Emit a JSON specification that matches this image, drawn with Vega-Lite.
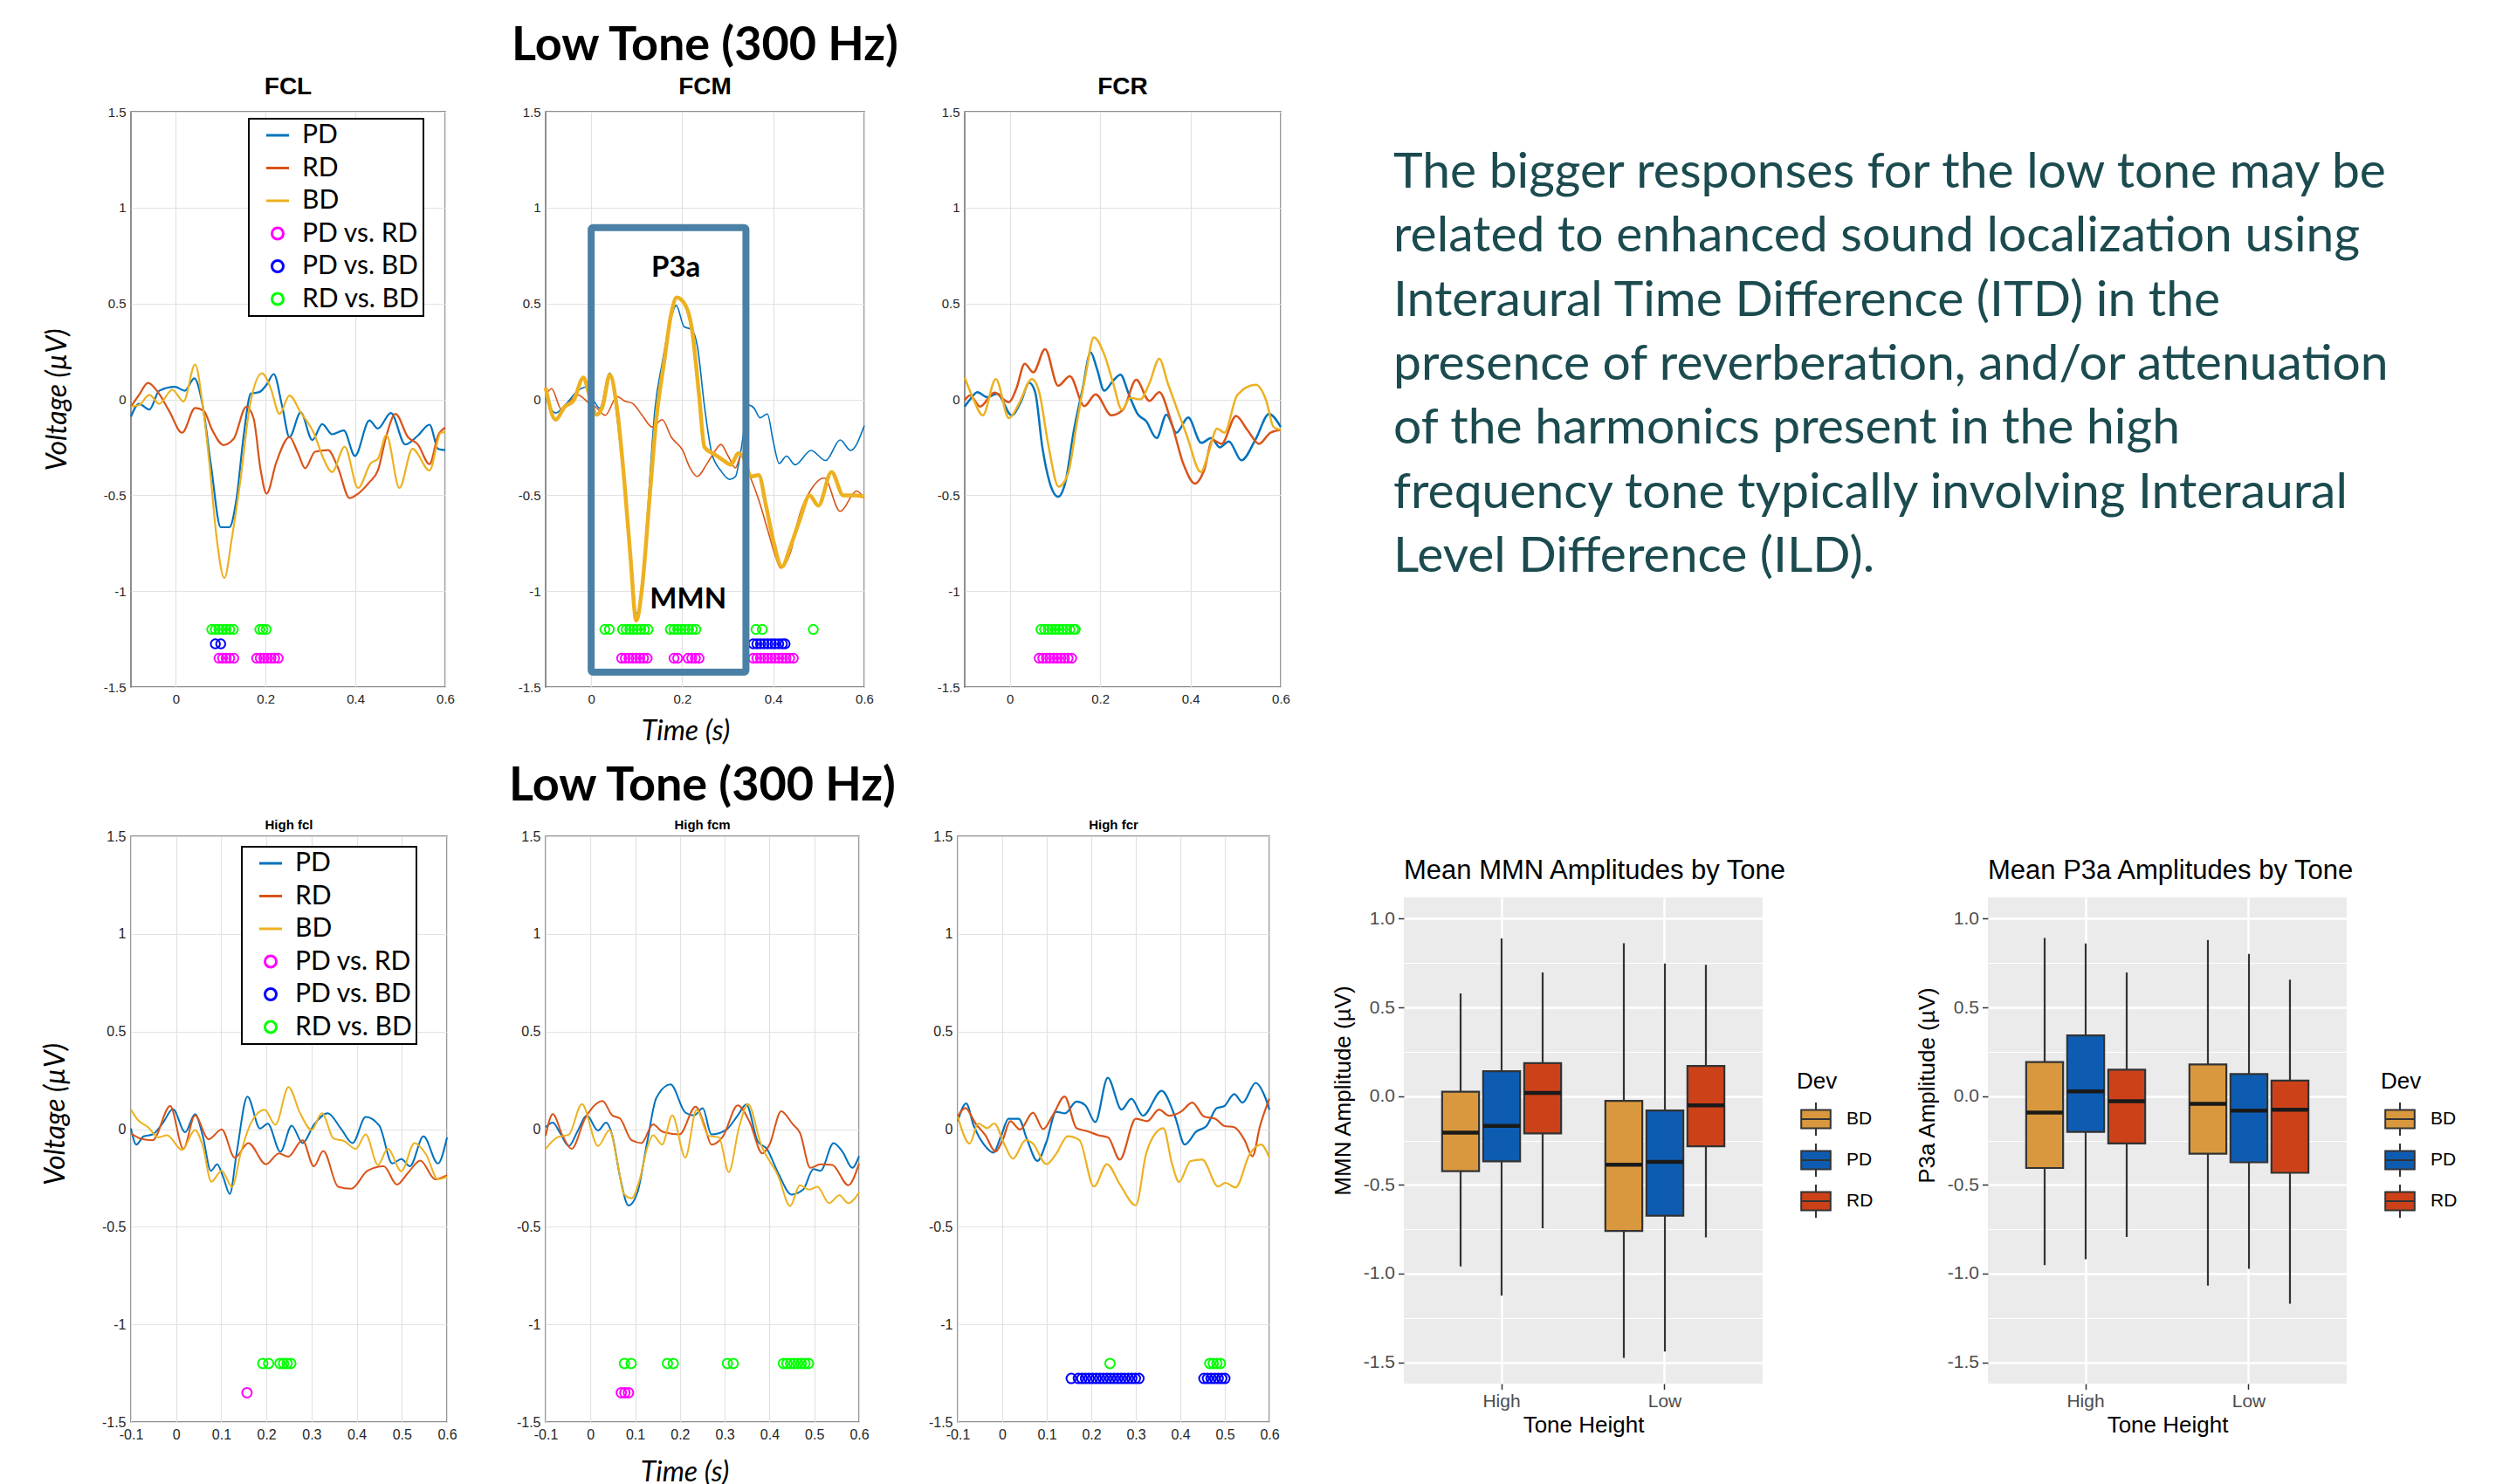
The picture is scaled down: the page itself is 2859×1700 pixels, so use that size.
{
"$schema": "https://vega.github.io/schema/vega-lite/v6.json",
"background": "#ffffff",
"padding": {"left": 46, "top": 25, "right": 5, "bottom": 5},
"config": {
  "font": "Liberation Sans",
  "view": {"stroke": "#6b6b6b", "strokeWidth": 1.5},
  "axis": {"grid": true, "gridColor": "#e2e2e2", "gridWidth": 1.2, "ticks": false, "domain": false, "labelFont": "Liberation Sans", "labelFontSize": 15, "labelColor": "#262626", "labelPadding": 6, "labelFlush": false, "labelOverlap": false, "titleFontWeight": "normal", "titleColor": "#000000"},
  "title": {"color": "#000000", "subtitleColor": "#000000"}
},
"datasets": {
"wave": [
{"p":"FCL","s":"PD","t":-0.1,"v":-0.09},{"p":"FCL","s":"PD","t":-0.082,"v":-0.023},{"p":"FCL","s":"PD","t":-0.059,"v":-0.053},{"p":"FCL","s":"PD","t":-0.037,"v":0.045},{"p":"FCL","s":"PD","t":-0.002,"v":0.065},{"p":"FCL","s":"PD","t":0.02,"v":0.045},{"p":"FCL","s":"PD","t":0.041,"v":0.11},{"p":"FCL","s":"PD","t":0.059,"v":-0.023},{"p":"FCL","s":"PD","t":0.078,"v":-0.34},{"p":"FCL","s":"PD","t":0.1,"v":-0.667},{"p":"FCL","s":"PD","t":0.119,"v":-0.667},{"p":"FCL","s":"PD","t":0.135,"v":-0.52},{"p":"FCL","s":"PD","t":0.151,"v":-0.19},{"p":"FCL","s":"PD","t":0.167,"v":0.03},{"p":"FCL","s":"PD","t":0.186,"v":0.038},{"p":"FCL","s":"PD","t":0.202,"v":0.076},{"p":"FCL","s":"PD","t":0.218,"v":0.132},{"p":"FCL","s":"PD","t":0.237,"v":-0.038},{"p":"FCL","s":"PD","t":0.253,"v":-0.197},{"p":"FCL","s":"PD","t":0.278,"v":-0.068},{"p":"FCL","s":"PD","t":0.304,"v":-0.212},{"p":"FCL","s":"PD","t":0.326,"v":-0.129},{"p":"FCL","s":"PD","t":0.348,"v":-0.182},{"p":"FCL","s":"PD","t":0.374,"v":-0.162},{"p":"FCL","s":"PD","t":0.399,"v":-0.295},{"p":"FCL","s":"PD","t":0.431,"v":-0.11},{"p":"FCL","s":"PD","t":0.45,"v":-0.152},{"p":"FCL","s":"PD","t":0.479,"v":-0.071},{"p":"FCL","s":"PD","t":0.511,"v":-0.235},{"p":"FCL","s":"PD","t":0.539,"v":-0.189},{"p":"FCL","s":"PD","t":0.565,"v":-0.132},{"p":"FCL","s":"PD","t":0.584,"v":-0.258},{"p":"FCL","s":"PD","t":0.6,"v":-0.265},
{"p":"FCL","s":"RD","t":-0.1,"v":-0.038},{"p":"FCL","s":"RD","t":-0.082,"v":0.023},{"p":"FCL","s":"RD","t":-0.062,"v":0.086},{"p":"FCL","s":"RD","t":-0.04,"v":0.038},{"p":"FCL","s":"RD","t":-0.015,"v":-0.06},{"p":"FCL","s":"RD","t":0.014,"v":-0.174},{"p":"FCL","s":"RD","t":0.043,"v":-0.045},{"p":"FCL","s":"RD","t":0.062,"v":-0.06},{"p":"FCL","s":"RD","t":0.081,"v":-0.16},{"p":"FCL","s":"RD","t":0.106,"v":-0.238},{"p":"FCL","s":"RD","t":0.129,"v":-0.205},{"p":"FCL","s":"RD","t":0.157,"v":-0.038},{"p":"FCL","s":"RD","t":0.173,"v":-0.098},{"p":"FCL","s":"RD","t":0.189,"v":-0.371},{"p":"FCL","s":"RD","t":0.202,"v":-0.492},{"p":"FCL","s":"RD","t":0.224,"v":-0.326},{"p":"FCL","s":"RD","t":0.253,"v":-0.197},{"p":"FCL","s":"RD","t":0.272,"v":-0.28},{"p":"FCL","s":"RD","t":0.288,"v":-0.359},{"p":"FCL","s":"RD","t":0.31,"v":-0.273},{"p":"FCL","s":"RD","t":0.339,"v":-0.265},{"p":"FCL","s":"RD","t":0.361,"v":-0.356},{"p":"FCL","s":"RD","t":0.387,"v":-0.515},{"p":"FCL","s":"RD","t":0.406,"v":-0.492},{"p":"FCL","s":"RD","t":0.431,"v":-0.432},{"p":"FCL","s":"RD","t":0.45,"v":-0.371},{"p":"FCL","s":"RD","t":0.469,"v":-0.189},{"p":"FCL","s":"RD","t":0.489,"v":-0.076},{"p":"FCL","s":"RD","t":0.517,"v":-0.197},{"p":"FCL","s":"RD","t":0.539,"v":-0.235},{"p":"FCL","s":"RD","t":0.565,"v":-0.338},{"p":"FCL","s":"RD","t":0.584,"v":-0.189},{"p":"FCL","s":"RD","t":0.6,"v":-0.147},
{"p":"FCL","s":"BD","t":-0.1,"v":-0.038},{"p":"FCL","s":"BD","t":-0.082,"v":-0.03},{"p":"FCL","s":"BD","t":-0.059,"v":0.023},{"p":"FCL","s":"BD","t":-0.037,"v":-0.023},{"p":"FCL","s":"BD","t":-0.008,"v":0.05},{"p":"FCL","s":"BD","t":0.017,"v":-0.011},{"p":"FCL","s":"BD","t":0.043,"v":0.182},{"p":"FCL","s":"BD","t":0.059,"v":-0.015},{"p":"FCL","s":"BD","t":0.075,"v":-0.34},{"p":"FCL","s":"BD","t":0.09,"v":-0.705},{"p":"FCL","s":"BD","t":0.108,"v":-0.932},{"p":"FCL","s":"BD","t":0.125,"v":-0.72},{"p":"FCL","s":"BD","t":0.145,"v":-0.4},{"p":"FCL","s":"BD","t":0.164,"v":-0.045},{"p":"FCL","s":"BD","t":0.192,"v":0.136},{"p":"FCL","s":"BD","t":0.211,"v":0.06},{"p":"FCL","s":"BD","t":0.231,"v":-0.076},{"p":"FCL","s":"BD","t":0.253,"v":0.02},{"p":"FCL","s":"BD","t":0.278,"v":-0.068},{"p":"FCL","s":"BD","t":0.307,"v":-0.174},{"p":"FCL","s":"BD","t":0.329,"v":-0.31},{"p":"FCL","s":"BD","t":0.348,"v":-0.379},{"p":"FCL","s":"BD","t":0.376,"v":-0.247},{"p":"FCL","s":"BD","t":0.406,"v":-0.462},{"p":"FCL","s":"BD","t":0.434,"v":-0.333},{"p":"FCL","s":"BD","t":0.45,"v":-0.31},{"p":"FCL","s":"BD","t":0.469,"v":-0.186},{"p":"FCL","s":"BD","t":0.498,"v":-0.462},{"p":"FCL","s":"BD","t":0.527,"v":-0.258},{"p":"FCL","s":"BD","t":0.565,"v":-0.371},{"p":"FCL","s":"BD","t":0.59,"v":-0.174},{"p":"FCL","s":"BD","t":0.6,"v":-0.17},
{"p":"FCM","s":"PD","t":-0.1,"v":0.008},{"p":"FCM","s":"PD","t":-0.078,"v":-0.071},{"p":"FCM","s":"PD","t":-0.055,"v":-0.023},{"p":"FCM","s":"PD","t":-0.029,"v":0.046},{"p":"FCM","s":"PD","t":-0.01,"v":0.065},{"p":"FCM","s":"PD","t":0.006,"v":-0.008},{"p":"FCM","s":"PD","t":0.019,"v":-0.046},{"p":"FCM","s":"PD","t":0.041,"v":0.137},{"p":"FCM","s":"PD","t":0.057,"v":-0.099},{"p":"FCM","s":"PD","t":0.073,"v":-0.463},{"p":"FCM","s":"PD","t":0.089,"v":-0.857},{"p":"FCM","s":"PD","t":0.099,"v":-1.115},{"p":"FCM","s":"PD","t":0.112,"v":-0.979},{"p":"FCM","s":"PD","t":0.124,"v":-0.584},{"p":"FCM","s":"PD","t":0.14,"v":-0.053},{"p":"FCM","s":"PD","t":0.156,"v":0.19},{"p":"FCM","s":"PD","t":0.172,"v":0.387},{"p":"FCM","s":"PD","t":0.187,"v":0.49},{"p":"FCM","s":"PD","t":0.204,"v":0.379},{"p":"FCM","s":"PD","t":0.221,"v":0.364},{"p":"FCM","s":"PD","t":0.233,"v":0.281},{"p":"FCM","s":"PD","t":0.249,"v":-0.038},{"p":"FCM","s":"PD","t":0.265,"v":-0.281},{"p":"FCM","s":"PD","t":0.285,"v":-0.372},{"p":"FCM","s":"PD","t":0.304,"v":-0.417},{"p":"FCM","s":"PD","t":0.317,"v":-0.402},{"p":"FCM","s":"PD","t":0.329,"v":-0.266},{"p":"FCM","s":"PD","t":0.346,"v":-0.03},{"p":"FCM","s":"PD","t":0.358,"v":-0.046},{"p":"FCM","s":"PD","t":0.371,"v":-0.096},{"p":"FCM","s":"PD","t":0.387,"v":-0.076},{"p":"FCM","s":"PD","t":0.4,"v":-0.22},{"p":"FCM","s":"PD","t":0.413,"v":-0.334},{"p":"FCM","s":"PD","t":0.429,"v":-0.296},{"p":"FCM","s":"PD","t":0.448,"v":-0.341},{"p":"FCM","s":"PD","t":0.483,"v":-0.266},{"p":"FCM","s":"PD","t":0.515,"v":-0.319},{"p":"FCM","s":"PD","t":0.547,"v":-0.212},{"p":"FCM","s":"PD","t":0.57,"v":-0.266},{"p":"FCM","s":"PD","t":0.6,"v":-0.137},
{"p":"FCM","s":"RD","t":-0.1,"v":0.023},{"p":"FCM","s":"RD","t":-0.087,"v":0.056},{"p":"FCM","s":"RD","t":-0.065,"v":-0.053},{"p":"FCM","s":"RD","t":-0.039,"v":0.008},{"p":"FCM","s":"RD","t":-0.029,"v":0.023},{"p":"FCM","s":"RD","t":-0.007,"v":-0.015},{"p":"FCM","s":"RD","t":0.009,"v":-0.038},{"p":"FCM","s":"RD","t":0.031,"v":-0.083},{"p":"FCM","s":"RD","t":0.057,"v":0.015},{"p":"FCM","s":"RD","t":0.073,"v":-0.008},{"p":"FCM","s":"RD","t":0.092,"v":-0.023},{"p":"FCM","s":"RD","t":0.112,"v":-0.083},{"p":"FCM","s":"RD","t":0.134,"v":-0.144},{"p":"FCM","s":"RD","t":0.156,"v":-0.106},{"p":"FCM","s":"RD","t":0.176,"v":-0.197},{"p":"FCM","s":"RD","t":0.201,"v":-0.266},{"p":"FCM","s":"RD","t":0.217,"v":-0.357},{"p":"FCM","s":"RD","t":0.233,"v":-0.402},{"p":"FCM","s":"RD","t":0.253,"v":-0.341},{"p":"FCM","s":"RD","t":0.269,"v":-0.281},{"p":"FCM","s":"RD","t":0.285,"v":-0.235},{"p":"FCM","s":"RD","t":0.301,"v":-0.296},{"p":"FCM","s":"RD","t":0.317,"v":-0.357},{"p":"FCM","s":"RD","t":0.329,"v":-0.296},{"p":"FCM","s":"RD","t":0.349,"v":-0.402},{"p":"FCM","s":"RD","t":0.368,"v":-0.524},{"p":"FCM","s":"RD","t":0.387,"v":-0.675},{"p":"FCM","s":"RD","t":0.406,"v":-0.827},{"p":"FCM","s":"RD","t":0.416,"v":-0.88},{"p":"FCM","s":"RD","t":0.438,"v":-0.797},{"p":"FCM","s":"RD","t":0.458,"v":-0.6},{"p":"FCM","s":"RD","t":0.483,"v":-0.47},{"p":"FCM","s":"RD","t":0.512,"v":-0.41},{"p":"FCM","s":"RD","t":0.547,"v":-0.584},{"p":"FCM","s":"RD","t":0.583,"v":-0.478},{"p":"FCM","s":"RD","t":0.6,"v":-0.516},
{"p":"FCM","s":"BD","t":-0.1,"v":0.061},{"p":"FCM","s":"BD","t":-0.078,"v":-0.106},{"p":"FCM","s":"BD","t":-0.058,"v":-0.038},{"p":"FCM","s":"BD","t":-0.039,"v":-0.008},{"p":"FCM","s":"BD","t":-0.017,"v":0.114},{"p":"FCM","s":"BD","t":-0.004,"v":0.023},{"p":"FCM","s":"BD","t":0.012,"v":-0.08},{"p":"FCM","s":"BD","t":0.025,"v":-0.038},{"p":"FCM","s":"BD","t":0.041,"v":0.129},{"p":"FCM","s":"BD","t":0.057,"v":-0.053},{"p":"FCM","s":"BD","t":0.073,"v":-0.432},{"p":"FCM","s":"BD","t":0.086,"v":-0.812},{"p":"FCM","s":"BD","t":0.099,"v":-1.153},{"p":"FCM","s":"BD","t":0.112,"v":-0.979},{"p":"FCM","s":"BD","t":0.128,"v":-0.524},{"p":"FCM","s":"BD","t":0.144,"v":-0.083},{"p":"FCM","s":"BD","t":0.16,"v":0.19},{"p":"FCM","s":"BD","t":0.176,"v":0.448},{"p":"FCM","s":"BD","t":0.188,"v":0.531},{"p":"FCM","s":"BD","t":0.208,"v":0.486},{"p":"FCM","s":"BD","t":0.221,"v":0.372},{"p":"FCM","s":"BD","t":0.237,"v":0.023},{"p":"FCM","s":"BD","t":0.249,"v":-0.25},{"p":"FCM","s":"BD","t":0.272,"v":-0.288},{"p":"FCM","s":"BD","t":0.291,"v":-0.319},{"p":"FCM","s":"BD","t":0.307,"v":-0.341},{"p":"FCM","s":"BD","t":0.323,"v":-0.281},{"p":"FCM","s":"BD","t":0.333,"v":-0.296},{"p":"FCM","s":"BD","t":0.352,"v":-0.402},{"p":"FCM","s":"BD","t":0.368,"v":-0.395},{"p":"FCM","s":"BD","t":0.384,"v":-0.554},{"p":"FCM","s":"BD","t":0.4,"v":-0.736},{"p":"FCM","s":"BD","t":0.419,"v":-0.873},{"p":"FCM","s":"BD","t":0.438,"v":-0.766},{"p":"FCM","s":"BD","t":0.458,"v":-0.63},{"p":"FCM","s":"BD","t":0.48,"v":-0.501},{"p":"FCM","s":"BD","t":0.499,"v":-0.554},{"p":"FCM","s":"BD","t":0.528,"v":-0.379},{"p":"FCM","s":"BD","t":0.554,"v":-0.501},{"p":"FCM","s":"BD","t":0.579,"v":-0.501},{"p":"FCM","s":"BD","t":0.6,"v":-0.508},
{"p":"FCR","s":"PD","t":-0.1,"v":-0.038},{"p":"FCR","s":"PD","t":-0.088,"v":0},{"p":"FCR","s":"PD","t":-0.072,"v":0.038},{"p":"FCR","s":"PD","t":-0.05,"v":0.011},{"p":"FCR","s":"PD","t":-0.028,"v":0.03},{"p":"FCR","s":"PD","t":0.004,"v":-0.083},{"p":"FCR","s":"PD","t":0.024,"v":-0.015},{"p":"FCR","s":"PD","t":0.043,"v":0.086},{"p":"FCR","s":"PD","t":0.056,"v":0.038},{"p":"FCR","s":"PD","t":0.072,"v":-0.25},{"p":"FCR","s":"PD","t":0.088,"v":-0.432},{"p":"FCR","s":"PD","t":0.107,"v":-0.508},{"p":"FCR","s":"PD","t":0.123,"v":-0.432},{"p":"FCR","s":"PD","t":0.142,"v":-0.159},{"p":"FCR","s":"PD","t":0.161,"v":0.053},{"p":"FCR","s":"PD","t":0.179,"v":0.245},{"p":"FCR","s":"PD","t":0.193,"v":0.159},{"p":"FCR","s":"PD","t":0.209,"v":0.045},{"p":"FCR","s":"PD","t":0.229,"v":0.098},{"p":"FCR","s":"PD","t":0.245,"v":0.129},{"p":"FCR","s":"PD","t":0.264,"v":0.023},{"p":"FCR","s":"PD","t":0.283,"v":-0.076},{"p":"FCR","s":"PD","t":0.302,"v":-0.114},{"p":"FCR","s":"PD","t":0.325,"v":-0.202},{"p":"FCR","s":"PD","t":0.347,"v":-0.08},{"p":"FCR","s":"PD","t":0.369,"v":-0.174},{"p":"FCR","s":"PD","t":0.395,"v":-0.095},{"p":"FCR","s":"PD","t":0.424,"v":-0.227},{"p":"FCR","s":"PD","t":0.446,"v":-0.202},{"p":"FCR","s":"PD","t":0.465,"v":-0.25},{"p":"FCR","s":"PD","t":0.485,"v":-0.22},{"p":"FCR","s":"PD","t":0.513,"v":-0.318},{"p":"FCR","s":"PD","t":0.545,"v":-0.205},{"p":"FCR","s":"PD","t":0.574,"v":-0.076},{"p":"FCR","s":"PD","t":0.6,"v":-0.144},
{"p":"FCR","s":"RD","t":-0.1,"v":-0.005},{"p":"FCR","s":"RD","t":-0.088,"v":0.02},{"p":"FCR","s":"RD","t":-0.066,"v":-0.038},{"p":"FCR","s":"RD","t":-0.034,"v":0.035},{"p":"FCR","s":"RD","t":-0.002,"v":-0.015},{"p":"FCR","s":"RD","t":0.014,"v":0.053},{"p":"FCR","s":"RD","t":0.033,"v":0.186},{"p":"FCR","s":"RD","t":0.052,"v":0.141},{"p":"FCR","s":"RD","t":0.078,"v":0.262},{"p":"FCR","s":"RD","t":0.107,"v":0.071},{"p":"FCR","s":"RD","t":0.133,"v":0.121},{"p":"FCR","s":"RD","t":0.165,"v":-0.035},{"p":"FCR","s":"RD","t":0.19,"v":0.026},{"p":"FCR","s":"RD","t":0.225,"v":-0.083},{"p":"FCR","s":"RD","t":0.251,"v":-0.053},{"p":"FCR","s":"RD","t":0.28,"v":0.102},{"p":"FCR","s":"RD","t":0.309,"v":-0.008},{"p":"FCR","s":"RD","t":0.331,"v":0.038},{"p":"FCR","s":"RD","t":0.357,"v":-0.114},{"p":"FCR","s":"RD","t":0.385,"v":-0.341},{"p":"FCR","s":"RD","t":0.41,"v":-0.439},{"p":"FCR","s":"RD","t":0.43,"v":-0.371},{"p":"FCR","s":"RD","t":0.449,"v":-0.212},{"p":"FCR","s":"RD","t":0.469,"v":-0.232},{"p":"FCR","s":"RD","t":0.501,"v":-0.086},{"p":"FCR","s":"RD","t":0.526,"v":-0.159},{"p":"FCR","s":"RD","t":0.552,"v":-0.232},{"p":"FCR","s":"RD","t":0.577,"v":-0.174},{"p":"FCR","s":"RD","t":0.6,"v":-0.159},
{"p":"FCR","s":"BD","t":-0.1,"v":0.114},{"p":"FCR","s":"BD","t":-0.082,"v":0.008},{"p":"FCR","s":"BD","t":-0.06,"v":-0.083},{"p":"FCR","s":"BD","t":-0.031,"v":0.106},{"p":"FCR","s":"BD","t":-0.002,"v":-0.098},{"p":"FCR","s":"BD","t":0.02,"v":-0.023},{"p":"FCR","s":"BD","t":0.049,"v":0.106},{"p":"FCR","s":"BD","t":0.065,"v":0.038},{"p":"FCR","s":"BD","t":0.085,"v":-0.235},{"p":"FCR","s":"BD","t":0.108,"v":-0.455},{"p":"FCR","s":"BD","t":0.129,"v":-0.386},{"p":"FCR","s":"BD","t":0.149,"v":-0.114},{"p":"FCR","s":"BD","t":0.168,"v":0.129},{"p":"FCR","s":"BD","t":0.186,"v":0.323},{"p":"FCR","s":"BD","t":0.209,"v":0.235},{"p":"FCR","s":"BD","t":0.229,"v":0.083},{"p":"FCR","s":"BD","t":0.248,"v":-0.053},{"p":"FCR","s":"BD","t":0.267,"v":0.008},{"p":"FCR","s":"BD","t":0.289,"v":0},{"p":"FCR","s":"BD","t":0.309,"v":0.083},{"p":"FCR","s":"BD","t":0.331,"v":0.212},{"p":"FCR","s":"BD","t":0.35,"v":0.083},{"p":"FCR","s":"BD","t":0.373,"v":-0.068},{"p":"FCR","s":"BD","t":0.392,"v":-0.189},{"p":"FCR","s":"BD","t":0.423,"v":-0.379},{"p":"FCR","s":"BD","t":0.44,"v":-0.28},{"p":"FCR","s":"BD","t":0.459,"v":-0.152},{"p":"FCR","s":"BD","t":0.475,"v":-0.174},{"p":"FCR","s":"BD","t":0.504,"v":0.023},{"p":"FCR","s":"BD","t":0.545,"v":0.076},{"p":"FCR","s":"BD","t":0.568,"v":-0.008},{"p":"FCR","s":"BD","t":0.584,"v":-0.144},{"p":"FCR","s":"BD","t":0.6,"v":-0.159},
{"p":"hFCL","s":"PD","t":-0.1,"v":0.003},{"p":"hFCL","s":"PD","t":-0.088,"v":-0.079},{"p":"hFCL","s":"PD","t":-0.072,"v":-0.037},{"p":"hFCL","s":"PD","t":-0.052,"v":-0.027},{"p":"hFCL","s":"PD","t":-0.029,"v":0.033},{"p":"hFCL","s":"PD","t":-0.007,"v":0.103},{"p":"hFCL","s":"PD","t":0.02,"v":-0.016},{"p":"hFCL","s":"PD","t":0.042,"v":0.077},{"p":"hFCL","s":"PD","t":0.059,"v":-0.034},{"p":"hFCL","s":"PD","t":0.077,"v":-0.213},{"p":"hFCL","s":"PD","t":0.091,"v":-0.18},{"p":"hFCL","s":"PD","t":0.104,"v":-0.243},{"p":"hFCL","s":"PD","t":0.119,"v":-0.332},{"p":"hFCL","s":"PD","t":0.134,"v":-0.124},{"p":"hFCL","s":"PD","t":0.158,"v":0.167},{"p":"hFCL","s":"PD","t":0.186,"v":0.003},{"p":"hFCL","s":"PD","t":0.203,"v":0.028},{"p":"hFCL","s":"PD","t":0.231,"v":-0.116},{"p":"hFCL","s":"PD","t":0.256,"v":0.018},{"p":"hFCL","s":"PD","t":0.28,"v":-0.071},{"p":"hFCL","s":"PD","t":0.306,"v":0.025},{"p":"hFCL","s":"PD","t":0.336,"v":0.082},{"p":"hFCL","s":"PD","t":0.365,"v":0.003},{"p":"hFCL","s":"PD","t":0.391,"v":-0.071},{"p":"hFCL","s":"PD","t":0.42,"v":0.063},{"p":"hFCL","s":"PD","t":0.45,"v":0.018},{"p":"hFCL","s":"PD","t":0.479,"v":-0.176},{"p":"hFCL","s":"PD","t":0.499,"v":-0.153},{"p":"hFCL","s":"PD","t":0.518,"v":-0.19},{"p":"hFCL","s":"PD","t":0.548,"v":-0.037},{"p":"hFCL","s":"PD","t":0.58,"v":-0.176},{"p":"hFCL","s":"PD","t":0.6,"v":-0.042},
{"p":"hFCL","s":"RD","t":-0.1,"v":-0.022},{"p":"hFCL","s":"RD","t":-0.078,"v":-0.049},{"p":"hFCL","s":"RD","t":-0.052,"v":-0.057},{"p":"hFCL","s":"RD","t":-0.013,"v":0.118},{"p":"hFCL","s":"RD","t":0.016,"v":-0.101},{"p":"hFCL","s":"RD","t":0.042,"v":0.07},{"p":"hFCL","s":"RD","t":0.072,"v":-0.052},{"p":"hFCL","s":"RD","t":0.101,"v":-0.001},{"p":"hFCL","s":"RD","t":0.13,"v":-0.146},{"p":"hFCL","s":"RD","t":0.16,"v":-0.071},{"p":"hFCL","s":"RD","t":0.199,"v":-0.18},{"p":"hFCL","s":"RD","t":0.228,"v":-0.124},{"p":"hFCL","s":"RD","t":0.248,"v":-0.141},{"p":"hFCL","s":"RD","t":0.28,"v":-0.057},{"p":"hFCL","s":"RD","t":0.305,"v":-0.19},{"p":"hFCL","s":"RD","t":0.326,"v":-0.112},{"p":"hFCL","s":"RD","t":0.359,"v":-0.295},{"p":"hFCL","s":"RD","t":0.388,"v":-0.305},{"p":"hFCL","s":"RD","t":0.424,"v":-0.213},{"p":"hFCL","s":"RD","t":0.46,"v":-0.19},{"p":"hFCL","s":"RD","t":0.489,"v":-0.284},{"p":"hFCL","s":"RD","t":0.515,"v":-0.22},{"p":"hFCL","s":"RD","t":0.541,"v":-0.161},{"p":"hFCL","s":"RD","t":0.574,"v":-0.257},{"p":"hFCL","s":"RD","t":0.6,"v":-0.235},
{"p":"hFCL","s":"BD","t":-0.1,"v":0.1},{"p":"hFCL","s":"BD","t":-0.085,"v":0.048},{"p":"hFCL","s":"BD","t":-0.062,"v":0.01},{"p":"hFCL","s":"BD","t":-0.039,"v":-0.042},{"p":"hFCL","s":"BD","t":-0.02,"v":-0.031},{"p":"hFCL","s":"BD","t":0.013,"v":-0.106},{"p":"hFCL","s":"BD","t":0.042,"v":-0.004},{"p":"hFCL","s":"BD","t":0.059,"v":-0.086},{"p":"hFCL","s":"BD","t":0.078,"v":-0.269},{"p":"hFCL","s":"BD","t":0.101,"v":-0.213},{"p":"hFCL","s":"BD","t":0.124,"v":-0.295},{"p":"hFCL","s":"BD","t":0.143,"v":-0.124},{"p":"hFCL","s":"BD","t":0.166,"v":0.033},{"p":"hFCL","s":"BD","t":0.196,"v":0.1},{"p":"hFCL","s":"BD","t":0.22,"v":0.022},{"p":"hFCL","s":"BD","t":0.249,"v":0.216},{"p":"hFCL","s":"BD","t":0.274,"v":0.085},{"p":"hFCL","s":"BD","t":0.3,"v":-0.004},{"p":"hFCL","s":"BD","t":0.323,"v":0.082},{"p":"hFCL","s":"BD","t":0.349,"v":-0.049},{"p":"hFCL","s":"BD","t":0.372,"v":-0.061},{"p":"hFCL","s":"BD","t":0.398,"v":-0.101},{"p":"hFCL","s":"BD","t":0.42,"v":-0.027},{"p":"hFCL","s":"BD","t":0.447,"v":-0.183},{"p":"hFCL","s":"BD","t":0.469,"v":-0.101},{"p":"hFCL","s":"BD","t":0.499,"v":-0.216},{"p":"hFCL","s":"BD","t":0.528,"v":-0.071},{"p":"hFCL","s":"BD","t":0.554,"v":-0.131},{"p":"hFCL","s":"BD","t":0.58,"v":-0.257},{"p":"hFCL","s":"BD","t":0.6,"v":-0.243},
{"p":"hFCM","s":"PD","t":-0.1,"v":0.01},{"p":"hFCM","s":"PD","t":-0.084,"v":0.033},{"p":"hFCM","s":"PD","t":-0.068,"v":-0.019},{"p":"hFCM","s":"PD","t":-0.048,"v":-0.086},{"p":"hFCM","s":"PD","t":-0.029,"v":-0.012},{"p":"hFCM","s":"PD","t":-0.008,"v":0.07},{"p":"hFCM","s":"PD","t":0.017,"v":-0.007},{"p":"hFCM","s":"PD","t":0.035,"v":0.033},{"p":"hFCM","s":"PD","t":0.049,"v":-0.034},{"p":"hFCM","s":"PD","t":0.066,"v":-0.243},{"p":"hFCM","s":"PD","t":0.085,"v":-0.391},{"p":"hFCM","s":"PD","t":0.105,"v":-0.324},{"p":"hFCM","s":"PD","t":0.127,"v":-0.064},{"p":"hFCM","s":"PD","t":0.147,"v":0.159},{"p":"hFCM","s":"PD","t":0.179,"v":0.229},{"p":"hFCM","s":"PD","t":0.212,"v":0.085},{"p":"hFCM","s":"PD","t":0.231,"v":0.07},{"p":"hFCM","s":"PD","t":0.251,"v":0.107},{"p":"hFCM","s":"PD","t":0.27,"v":-0.027},{"p":"hFCM","s":"PD","t":0.303,"v":-0.004},{"p":"hFCM","s":"PD","t":0.329,"v":0.07},{"p":"hFCM","s":"PD","t":0.348,"v":0.126},{"p":"hFCM","s":"PD","t":0.374,"v":-0.064},{"p":"hFCM","s":"PD","t":0.394,"v":-0.101},{"p":"hFCM","s":"PD","t":0.42,"v":-0.228},{"p":"hFCM","s":"PD","t":0.449,"v":-0.335},{"p":"hFCM","s":"PD","t":0.475,"v":-0.31},{"p":"hFCM","s":"PD","t":0.498,"v":-0.205},{"p":"hFCM","s":"PD","t":0.514,"v":-0.213},{"p":"hFCM","s":"PD","t":0.543,"v":-0.071},{"p":"hFCM","s":"PD","t":0.563,"v":-0.116},{"p":"hFCM","s":"PD","t":0.585,"v":-0.198},{"p":"hFCM","s":"PD","t":0.6,"v":-0.138},
{"p":"hFCM","s":"RD","t":-0.1,"v":-0.034},{"p":"hFCM","s":"RD","t":-0.084,"v":0.077},{"p":"hFCM","s":"RD","t":-0.062,"v":-0.034},{"p":"hFCM","s":"RD","t":-0.042,"v":-0.101},{"p":"hFCM","s":"RD","t":-0.012,"v":0.055},{"p":"hFCM","s":"RD","t":0.027,"v":0.144},{"p":"hFCM","s":"RD","t":0.049,"v":0.07},{"p":"hFCM","s":"RD","t":0.066,"v":0.055},{"p":"hFCM","s":"RD","t":0.092,"v":-0.057},{"p":"hFCM","s":"RD","t":0.114,"v":-0.071},{"p":"hFCM","s":"RD","t":0.14,"v":0.025},{"p":"hFCM","s":"RD","t":0.16,"v":-0.012},{"p":"hFCM","s":"RD","t":0.199,"v":-0.027},{"p":"hFCM","s":"RD","t":0.235,"v":0.115},{"p":"hFCM","s":"RD","t":0.254,"v":0.025},{"p":"hFCM","s":"RD","t":0.27,"v":-0.079},{"p":"hFCM","s":"RD","t":0.296,"v":-0.037},{"p":"hFCM","s":"RD","t":0.329,"v":0.122},{"p":"hFCM","s":"RD","t":0.355,"v":0.04},{"p":"hFCM","s":"RD","t":0.384,"v":-0.124},{"p":"hFCM","s":"RD","t":0.4,"v":-0.079},{"p":"hFCM","s":"RD","t":0.426,"v":0.092},{"p":"hFCM","s":"RD","t":0.452,"v":0.025},{"p":"hFCM","s":"RD","t":0.468,"v":-0.019},{"p":"hFCM","s":"RD","t":0.491,"v":-0.198},{"p":"hFCM","s":"RD","t":0.514,"v":-0.18},{"p":"hFCM","s":"RD","t":0.54,"v":-0.183},{"p":"hFCM","s":"RD","t":0.576,"v":-0.287},{"p":"hFCM","s":"RD","t":0.6,"v":-0.176},
{"p":"hFCM","s":"BD","t":-0.1,"v":-0.101},{"p":"hFCM","s":"BD","t":-0.074,"v":-0.042},{"p":"hFCM","s":"BD","t":-0.048,"v":-0.027},{"p":"hFCM","s":"BD","t":-0.019,"v":0.129},{"p":"hFCM","s":"BD","t":0.017,"v":-0.086},{"p":"hFCM","s":"BD","t":0.043,"v":-0.004},{"p":"hFCM","s":"BD","t":0.059,"v":-0.153},{"p":"hFCM","s":"BD","t":0.075,"v":-0.332},{"p":"hFCM","s":"BD","t":0.092,"v":-0.354},{"p":"hFCM","s":"BD","t":0.111,"v":-0.25},{"p":"hFCM","s":"BD","t":0.127,"v":-0.094},{"p":"hFCM","s":"BD","t":0.14,"v":-0.031},{"p":"hFCM","s":"BD","t":0.16,"v":-0.079},{"p":"hFCM","s":"BD","t":0.183,"v":0.07},{"p":"hFCM","s":"BD","t":0.212,"v":-0.146},{"p":"hFCM","s":"BD","t":0.237,"v":0.1},{"p":"hFCM","s":"BD","t":0.264,"v":-0.034},{"p":"hFCM","s":"BD","t":0.287,"v":-0.042},{"p":"hFCM","s":"BD","t":0.309,"v":-0.22},{"p":"hFCM","s":"BD","t":0.332,"v":0.01},{"p":"hFCM","s":"BD","t":0.352,"v":0.129},{"p":"hFCM","s":"BD","t":0.381,"v":-0.079},{"p":"hFCM","s":"BD","t":0.42,"v":-0.243},{"p":"hFCM","s":"BD","t":0.446,"v":-0.394},{"p":"hFCM","s":"BD","t":0.468,"v":-0.287},{"p":"hFCM","s":"BD","t":0.488,"v":-0.31},{"p":"hFCM","s":"BD","t":0.507,"v":-0.295},{"p":"hFCM","s":"BD","t":0.533,"v":-0.379},{"p":"hFCM","s":"BD","t":0.556,"v":-0.339},{"p":"hFCM","s":"BD","t":0.576,"v":-0.379},{"p":"hFCM","s":"BD","t":0.6,"v":-0.324},
{"p":"hFCR","s":"PD","t":-0.1,"v":0.041},{"p":"hFCR","s":"PD","t":-0.081,"v":0.132},{"p":"hFCR","s":"PD","t":-0.064,"v":0.017},{"p":"hFCR","s":"PD","t":-0.041,"v":-0.079},{"p":"hFCR","s":"PD","t":-0.02,"v":-0.12},{"p":"hFCR","s":"PD","t":-0.002,"v":-0.031},{"p":"hFCR","s":"PD","t":0.014,"v":0.053},{"p":"hFCR","s":"PD","t":0.037,"v":0.053},{"p":"hFCR","s":"PD","t":0.056,"v":-0.055},{"p":"hFCR","s":"PD","t":0.079,"v":-0.163},{"p":"hFCR","s":"PD","t":0.099,"v":-0.067},{"p":"hFCR","s":"PD","t":0.121,"v":0.089},{"p":"hFCR","s":"PD","t":0.141,"v":0.081},{"p":"hFCR","s":"PD","t":0.167,"v":0.141},{"p":"hFCR","s":"PD","t":0.186,"v":0.124},{"p":"hFCR","s":"PD","t":0.209,"v":0.036},{"p":"hFCR","s":"PD","t":0.237,"v":0.263},{"p":"hFCR","s":"PD","t":0.268,"v":0.1},{"p":"hFCR","s":"PD","t":0.29,"v":0.156},{"p":"hFCR","s":"PD","t":0.316,"v":0.069},{"p":"hFCR","s":"PD","t":0.358,"v":0.196},{"p":"hFCR","s":"PD","t":0.388,"v":0.065},{"p":"hFCR","s":"PD","t":0.41,"v":-0.079},{"p":"hFCR","s":"PD","t":0.436,"v":-0.012},{"p":"hFCR","s":"PD","t":0.459,"v":0.017},{"p":"hFCR","s":"PD","t":0.482,"v":0.108},{"p":"hFCR","s":"PD","t":0.498,"v":0.117},{"p":"hFCR","s":"PD","t":0.521,"v":0.179},{"p":"hFCR","s":"PD","t":0.54,"v":0.136},{"p":"hFCR","s":"PD","t":0.569,"v":0.237},{"p":"hFCR","s":"PD","t":0.589,"v":0.172},{"p":"hFCR","s":"PD","t":0.6,"v":0.1},
{"p":"hFCR","s":"RD","t":-0.1,"v":0.065},{"p":"hFCR","s":"RD","t":-0.083,"v":0.108},{"p":"hFCR","s":"RD","t":-0.06,"v":0.029},{"p":"hFCR","s":"RD","t":-0.038,"v":-0.031},{"p":"hFCR","s":"RD","t":-0.015,"v":-0.115},{"p":"hFCR","s":"RD","t":0.001,"v":-0.055},{"p":"hFCR","s":"RD","t":0.018,"v":0.041},{"p":"hFCR","s":"RD","t":0.04,"v":-0.002},{"p":"hFCR","s":"RD","t":0.069,"v":0.084},{"p":"hFCR","s":"RD","t":0.092,"v":0},{"p":"hFCR","s":"RD","t":0.115,"v":0.077},{"p":"hFCR","s":"RD","t":0.14,"v":0.167},{"p":"hFCR","s":"RD","t":0.167,"v":0.005},{"p":"hFCR","s":"RD","t":0.193,"v":-0.012},{"p":"hFCR","s":"RD","t":0.216,"v":-0.031},{"p":"hFCR","s":"RD","t":0.238,"v":-0.043},{"p":"hFCR","s":"RD","t":0.264,"v":-0.156},{"p":"hFCR","s":"RD","t":0.3,"v":0.053},{"p":"hFCR","s":"RD","t":0.326,"v":0.041},{"p":"hFCR","s":"RD","t":0.352,"v":0.1},{"p":"hFCR","s":"RD","t":0.375,"v":0.069},{"p":"hFCR","s":"RD","t":0.401,"v":0.089},{"p":"hFCR","s":"RD","t":0.427,"v":0.136},{"p":"hFCR","s":"RD","t":0.453,"v":0.065},{"p":"hFCR","s":"RD","t":0.479,"v":0.053},{"p":"hFCR","s":"RD","t":0.498,"v":0.017},{"p":"hFCR","s":"RD","t":0.521,"v":0.01},{"p":"hFCR","s":"RD","t":0.544,"v":-0.055},{"p":"hFCR","s":"RD","t":0.562,"v":-0.139},{"p":"hFCR","s":"RD","t":0.579,"v":0.017},{"p":"hFCR","s":"RD","t":0.6,"v":0.156},
{"p":"hFCR","s":"BD","t":-0.1,"v":0.065},{"p":"hFCR","s":"BD","t":-0.073,"v":-0.074},{"p":"hFCR","s":"BD","t":-0.054,"v":0.029},{"p":"hFCR","s":"BD","t":-0.034,"v":0.005},{"p":"hFCR","s":"BD","t":-0.018,"v":0.029},{"p":"hFCR","s":"BD","t":0.005,"v":-0.079},{"p":"hFCR","s":"BD","t":0.024,"v":-0.151},{"p":"hFCR","s":"BD","t":0.053,"v":-0.055},{"p":"hFCR","s":"BD","t":0.069,"v":-0.074},{"p":"hFCR","s":"BD","t":0.099,"v":-0.179},{"p":"hFCR","s":"BD","t":0.121,"v":-0.127},{"p":"hFCR","s":"BD","t":0.147,"v":-0.036},{"p":"hFCR","s":"BD","t":0.173,"v":-0.055},{"p":"hFCR","s":"BD","t":0.206,"v":-0.294},{"p":"hFCR","s":"BD","t":0.235,"v":-0.179},{"p":"hFCR","s":"BD","t":0.264,"v":-0.282},{"p":"hFCR","s":"BD","t":0.3,"v":-0.39},{"p":"hFCR","s":"BD","t":0.323,"v":-0.127},{"p":"hFCR","s":"BD","t":0.345,"v":-0.019},{"p":"hFCR","s":"BD","t":0.362,"v":0.005},{"p":"hFCR","s":"BD","t":0.381,"v":-0.175},{"p":"hFCR","s":"BD","t":0.397,"v":-0.27},{"p":"hFCR","s":"BD","t":0.423,"v":-0.163},{"p":"hFCR","s":"BD","t":0.449,"v":-0.156},{"p":"hFCR","s":"BD","t":0.485,"v":-0.294},{"p":"hFCR","s":"BD","t":0.501,"v":-0.275},{"p":"hFCR","s":"BD","t":0.524,"v":-0.299},{"p":"hFCR","s":"BD","t":0.556,"v":-0.127},{"p":"hFCR","s":"BD","t":0.581,"v":-0.079},{"p":"hFCR","s":"BD","t":0.6,"v":-0.146}
],
"sig": [
{"p":"FCL","s":"RD vs. BD","t":0.08,"v":-1.2},{"p":"FCL","s":"RD vs. BD","t":0.088,"v":-1.2},{"p":"FCL","s":"RD vs. BD","t":0.096,"v":-1.2},{"p":"FCL","s":"RD vs. BD","t":0.104,"v":-1.2},{"p":"FCL","s":"RD vs. BD","t":0.112,"v":-1.2},{"p":"FCL","s":"RD vs. BD","t":0.12,"v":-1.2},{"p":"FCL","s":"RD vs. BD","t":0.128,"v":-1.2},{"p":"FCL","s":"RD vs. BD","t":0.187,"v":-1.2},{"p":"FCL","s":"RD vs. BD","t":0.194,"v":-1.2},{"p":"FCL","s":"RD vs. BD","t":0.201,"v":-1.2},
{"p":"FCL","s":"PD vs. BD","t":0.088,"v":-1.275},{"p":"FCL","s":"PD vs. BD","t":0.1,"v":-1.275},
{"p":"FCL","s":"PD vs. RD","t":0.096,"v":-1.35},{"p":"FCL","s":"PD vs. RD","t":0.104,"v":-1.35},{"p":"FCL","s":"PD vs. RD","t":0.112,"v":-1.35},{"p":"FCL","s":"PD vs. RD","t":0.12,"v":-1.35},{"p":"FCL","s":"PD vs. RD","t":0.129,"v":-1.35},{"p":"FCL","s":"PD vs. RD","t":0.18,"v":-1.35},{"p":"FCL","s":"PD vs. RD","t":0.188,"v":-1.35},{"p":"FCL","s":"PD vs. RD","t":0.196,"v":-1.35},{"p":"FCL","s":"PD vs. RD","t":0.204,"v":-1.35},{"p":"FCL","s":"PD vs. RD","t":0.212,"v":-1.35},{"p":"FCL","s":"PD vs. RD","t":0.22,"v":-1.35},{"p":"FCL","s":"PD vs. RD","t":0.228,"v":-1.35},
{"p":"FCM","s":"RD vs. BD","t":0.03,"v":-1.2},{"p":"FCM","s":"RD vs. BD","t":0.04,"v":-1.2},{"p":"FCM","s":"RD vs. BD","t":0.069,"v":-1.2},{"p":"FCM","s":"RD vs. BD","t":0.077,"v":-1.2},{"p":"FCM","s":"RD vs. BD","t":0.085,"v":-1.2},{"p":"FCM","s":"RD vs. BD","t":0.093,"v":-1.2},{"p":"FCM","s":"RD vs. BD","t":0.101,"v":-1.2},{"p":"FCM","s":"RD vs. BD","t":0.109,"v":-1.2},{"p":"FCM","s":"RD vs. BD","t":0.117,"v":-1.2},{"p":"FCM","s":"RD vs. BD","t":0.125,"v":-1.2},{"p":"FCM","s":"RD vs. BD","t":0.174,"v":-1.2},{"p":"FCM","s":"RD vs. BD","t":0.182,"v":-1.2},{"p":"FCM","s":"RD vs. BD","t":0.19,"v":-1.2},{"p":"FCM","s":"RD vs. BD","t":0.198,"v":-1.2},{"p":"FCM","s":"RD vs. BD","t":0.206,"v":-1.2},{"p":"FCM","s":"RD vs. BD","t":0.214,"v":-1.2},{"p":"FCM","s":"RD vs. BD","t":0.222,"v":-1.2},{"p":"FCM","s":"RD vs. BD","t":0.23,"v":-1.2},{"p":"FCM","s":"RD vs. BD","t":0.362,"v":-1.2},{"p":"FCM","s":"RD vs. BD","t":0.376,"v":-1.2},{"p":"FCM","s":"RD vs. BD","t":0.488,"v":-1.2},
{"p":"FCM","s":"PD vs. BD","t":0.356,"v":-1.275},{"p":"FCM","s":"PD vs. BD","t":0.364,"v":-1.275},{"p":"FCM","s":"PD vs. BD","t":0.372,"v":-1.275},{"p":"FCM","s":"PD vs. BD","t":0.38,"v":-1.275},{"p":"FCM","s":"PD vs. BD","t":0.388,"v":-1.275},{"p":"FCM","s":"PD vs. BD","t":0.396,"v":-1.275},{"p":"FCM","s":"PD vs. BD","t":0.404,"v":-1.275},{"p":"FCM","s":"PD vs. BD","t":0.412,"v":-1.275},{"p":"FCM","s":"PD vs. BD","t":0.42,"v":-1.275},{"p":"FCM","s":"PD vs. BD","t":0.426,"v":-1.275},
{"p":"FCM","s":"PD vs. RD","t":0.067,"v":-1.35},{"p":"FCM","s":"PD vs. RD","t":0.075,"v":-1.35},{"p":"FCM","s":"PD vs. RD","t":0.083,"v":-1.35},{"p":"FCM","s":"PD vs. RD","t":0.091,"v":-1.35},{"p":"FCM","s":"PD vs. RD","t":0.099,"v":-1.35},{"p":"FCM","s":"PD vs. RD","t":0.107,"v":-1.35},{"p":"FCM","s":"PD vs. RD","t":0.115,"v":-1.35},{"p":"FCM","s":"PD vs. RD","t":0.123,"v":-1.35},{"p":"FCM","s":"PD vs. RD","t":0.182,"v":-1.35},{"p":"FCM","s":"PD vs. RD","t":0.19,"v":-1.35},{"p":"FCM","s":"PD vs. RD","t":0.213,"v":-1.35},{"p":"FCM","s":"PD vs. RD","t":0.221,"v":-1.35},{"p":"FCM","s":"PD vs. RD","t":0.229,"v":-1.35},{"p":"FCM","s":"PD vs. RD","t":0.237,"v":-1.35},{"p":"FCM","s":"PD vs. RD","t":0.356,"v":-1.35},{"p":"FCM","s":"PD vs. RD","t":0.364,"v":-1.35},{"p":"FCM","s":"PD vs. RD","t":0.372,"v":-1.35},{"p":"FCM","s":"PD vs. RD","t":0.38,"v":-1.35},{"p":"FCM","s":"PD vs. RD","t":0.388,"v":-1.35},{"p":"FCM","s":"PD vs. RD","t":0.396,"v":-1.35},{"p":"FCM","s":"PD vs. RD","t":0.404,"v":-1.35},{"p":"FCM","s":"PD vs. RD","t":0.412,"v":-1.35},{"p":"FCM","s":"PD vs. RD","t":0.42,"v":-1.35},{"p":"FCM","s":"PD vs. RD","t":0.428,"v":-1.35},{"p":"FCM","s":"PD vs. RD","t":0.436,"v":-1.35},{"p":"FCM","s":"PD vs. RD","t":0.444,"v":-1.35},
{"p":"FCR","s":"RD vs. BD","t":0.069,"v":-1.2},{"p":"FCR","s":"RD vs. BD","t":0.077,"v":-1.2},{"p":"FCR","s":"RD vs. BD","t":0.085,"v":-1.2},{"p":"FCR","s":"RD vs. BD","t":0.093,"v":-1.2},{"p":"FCR","s":"RD vs. BD","t":0.101,"v":-1.2},{"p":"FCR","s":"RD vs. BD","t":0.109,"v":-1.2},{"p":"FCR","s":"RD vs. BD","t":0.117,"v":-1.2},{"p":"FCR","s":"RD vs. BD","t":0.125,"v":-1.2},{"p":"FCR","s":"RD vs. BD","t":0.133,"v":-1.2},{"p":"FCR","s":"RD vs. BD","t":0.141,"v":-1.2},{"p":"FCR","s":"RD vs. BD","t":0.145,"v":-1.2},
{"p":"FCR","s":"PD vs. RD","t":0.065,"v":-1.35},{"p":"FCR","s":"PD vs. RD","t":0.073,"v":-1.35},{"p":"FCR","s":"PD vs. RD","t":0.081,"v":-1.35},{"p":"FCR","s":"PD vs. RD","t":0.089,"v":-1.35},{"p":"FCR","s":"PD vs. RD","t":0.097,"v":-1.35},{"p":"FCR","s":"PD vs. RD","t":0.105,"v":-1.35},{"p":"FCR","s":"PD vs. RD","t":0.113,"v":-1.35},{"p":"FCR","s":"PD vs. RD","t":0.121,"v":-1.35},{"p":"FCR","s":"PD vs. RD","t":0.129,"v":-1.35},{"p":"FCR","s":"PD vs. RD","t":0.137,"v":-1.35},
{"p":"hFCL","s":"RD vs. BD","t":0.192,"v":-1.2},{"p":"hFCL","s":"RD vs. BD","t":0.205,"v":-1.2},{"p":"hFCL","s":"RD vs. BD","t":0.23,"v":-1.2},{"p":"hFCL","s":"RD vs. BD","t":0.238,"v":-1.2},{"p":"hFCL","s":"RD vs. BD","t":0.246,"v":-1.2},{"p":"hFCL","s":"RD vs. BD","t":0.254,"v":-1.2},
{"p":"hFCL","s":"PD vs. RD","t":0.157,"v":-1.35},
{"p":"hFCM","s":"RD vs. BD","t":0.076,"v":-1.2},{"p":"hFCM","s":"RD vs. BD","t":0.091,"v":-1.2},{"p":"hFCM","s":"RD vs. BD","t":0.172,"v":-1.2},{"p":"hFCM","s":"RD vs. BD","t":0.185,"v":-1.2},{"p":"hFCM","s":"RD vs. BD","t":0.306,"v":-1.2},{"p":"hFCM","s":"RD vs. BD","t":0.319,"v":-1.2},{"p":"hFCM","s":"RD vs. BD","t":0.431,"v":-1.2},{"p":"hFCM","s":"RD vs. BD","t":0.439,"v":-1.2},{"p":"hFCM","s":"RD vs. BD","t":0.447,"v":-1.2},{"p":"hFCM","s":"RD vs. BD","t":0.455,"v":-1.2},{"p":"hFCM","s":"RD vs. BD","t":0.463,"v":-1.2},{"p":"hFCM","s":"RD vs. BD","t":0.471,"v":-1.2},{"p":"hFCM","s":"RD vs. BD","t":0.479,"v":-1.2},{"p":"hFCM","s":"RD vs. BD","t":0.487,"v":-1.2},
{"p":"hFCM","s":"PD vs. RD","t":0.069,"v":-1.35},{"p":"hFCM","s":"PD vs. RD","t":0.077,"v":-1.35},{"p":"hFCM","s":"PD vs. RD","t":0.085,"v":-1.35},
{"p":"hFCR","s":"RD vs. BD","t":0.242,"v":-1.2},{"p":"hFCR","s":"RD vs. BD","t":0.466,"v":-1.2},{"p":"hFCR","s":"RD vs. BD","t":0.474,"v":-1.2},{"p":"hFCR","s":"RD vs. BD","t":0.482,"v":-1.2},{"p":"hFCR","s":"RD vs. BD","t":0.49,"v":-1.2},
{"p":"hFCR","s":"PD vs. BD","t":0.155,"v":-1.277},{"p":"hFCR","s":"PD vs. BD","t":0.171,"v":-1.277},{"p":"hFCR","s":"PD vs. BD","t":0.179,"v":-1.277},{"p":"hFCR","s":"PD vs. BD","t":0.187,"v":-1.277},{"p":"hFCR","s":"PD vs. BD","t":0.195,"v":-1.277},{"p":"hFCR","s":"PD vs. BD","t":0.203,"v":-1.277},{"p":"hFCR","s":"PD vs. BD","t":0.211,"v":-1.277},{"p":"hFCR","s":"PD vs. BD","t":0.219,"v":-1.277},{"p":"hFCR","s":"PD vs. BD","t":0.227,"v":-1.277},{"p":"hFCR","s":"PD vs. BD","t":0.235,"v":-1.277},{"p":"hFCR","s":"PD vs. BD","t":0.243,"v":-1.277},{"p":"hFCR","s":"PD vs. BD","t":0.251,"v":-1.277},{"p":"hFCR","s":"PD vs. BD","t":0.259,"v":-1.277},{"p":"hFCR","s":"PD vs. BD","t":0.267,"v":-1.277},{"p":"hFCR","s":"PD vs. BD","t":0.275,"v":-1.277},{"p":"hFCR","s":"PD vs. BD","t":0.283,"v":-1.277},{"p":"hFCR","s":"PD vs. BD","t":0.291,"v":-1.277},{"p":"hFCR","s":"PD vs. BD","t":0.299,"v":-1.277},{"p":"hFCR","s":"PD vs. BD","t":0.307,"v":-1.277},{"p":"hFCR","s":"PD vs. BD","t":0.453,"v":-1.277},{"p":"hFCR","s":"PD vs. BD","t":0.461,"v":-1.277},{"p":"hFCR","s":"PD vs. BD","t":0.469,"v":-1.277},{"p":"hFCR","s":"PD vs. BD","t":0.477,"v":-1.277},{"p":"hFCR","s":"PD vs. BD","t":0.485,"v":-1.277},{"p":"hFCR","s":"PD vs. BD","t":0.493,"v":-1.277},{"p":"hFCR","s":"PD vs. BD","t":0.5,"v":-1.277}
],
"frame": [{"x0": 0, "x1": 0.34, "y0": -1.423, "y1": 0.896}],
"notes": [{"label": "P3a", "t": 0.186, "v": 0.685}, {"label": "MMN", "t": 0.213, "v": -1.046}],
"box": [
{"m":"MMN","tone":"High","dev":"BD","lo":-0.96,"q1":-0.423,"med":-0.206,"q3":0.025,"hi":0.579},
{"m":"MMN","tone":"High","dev":"PD","lo":-1.124,"q1":-0.367,"med":-0.167,"q3":0.14,"hi":0.889},
{"m":"MMN","tone":"High","dev":"RD","lo":-0.744,"q1":-0.21,"med":0.018,"q3":0.186,"hi":0.697},
{"m":"MMN","tone":"Low","dev":"BD","lo":-1.475,"q1":-0.76,"med":-0.387,"q3":-0.027,"hi":0.862},
{"m":"MMN","tone":"Low","dev":"PD","lo":-1.439,"q1":-0.674,"med":-0.371,"q3":-0.081,"hi":0.747},
{"m":"MMN","tone":"Low","dev":"RD","lo":-0.796,"q1":-0.283,"med":-0.052,"q3":0.17,"hi":0.74},
{"m":"P3a","tone":"High","dev":"BD","lo":-0.952,"q1":-0.405,"med":-0.093,"q3":0.192,"hi":0.891},
{"m":"P3a","tone":"High","dev":"PD","lo":-0.919,"q1":-0.201,"med":0.027,"q3":0.342,"hi":0.86},
{"m":"P3a","tone":"High","dev":"RD","lo":-0.794,"q1":-0.267,"med":-0.029,"q3":0.149,"hi":0.697},
{"m":"P3a","tone":"Low","dev":"BD","lo":-1.068,"q1":-0.324,"med":-0.043,"q3":0.179,"hi":0.88},
{"m":"P3a","tone":"Low","dev":"PD","lo":-0.973,"q1":-0.373,"med":-0.081,"q3":0.124,"hi":0.801},
{"m":"P3a","tone":"Low","dev":"RD","lo":-1.17,"q1":-0.432,"med":-0.077,"q3":0.088,"hi":0.656}
]
},
"hconcat": [
{
 "vconcat": [
  {
   "hconcat": [
    {
     "width": 360, "height": 659,
     "title": {"text": "FCL", "fontSize": 28, "fontWeight": "bold", "font": "Liberation Sans", "offset": 7, "color": "#000000"},
     "view": {"stroke": "#6b6b6b", "strokeWidth": 1.5, "fill": "#ffffff"},
     "layer": [
      {"data": {"name": "wave"}, "transform": [{"filter": "datum.p === 'FCL'"}],
       "mark": {"type": "line", "strokeWidth": 2.2, "interpolate": "monotone"},
       "encoding": {
        "x": {"field": "t", "type": "quantitative", "scale": {"domain": [-0.1, 0.6], "nice": false, "zero": false}, "axis": {"values": [0, 0.2, 0.4, 0.6], "labelExpr": "'' + datum.value", "title": null}},
        "y": {"field": "v", "type": "quantitative", "scale": {"domain": [-1.5, 1.5], "nice": false, "zero": false}, "axis": {"values": [-1.5, -1, -0.5, 0, 0.5, 1, 1.5], "labelExpr": "'' + datum.value", "title": "Voltage (µV)", "titleFont": "Lato", "titleFontStyle": "italic", "titleFontSize": 32, "titlePadding": 36}},
        "color": {"field": "s", "type": "nominal", "scale": {"domain": ["PD","RD","BD","PD vs. RD","PD vs. BD","RD vs. BD"], "range": ["#0072BD","#D95319","#EDB120","#FF00FF","#0000FF","#00FF00"]},
          "legend": {"title": null, "orient": "none", "legendX": 135, "legendY": 8, "strokeColor": "#000000", "fillColor": "#ffffff", "padding": 4, "labelFont": "Lato", "labelFontSize": 30, "labelColor": "#000000", "labelExpr": "datum.label + '\u00a0\u00a0\u00a0\u00a0\u00a0'", "symbolSize": 676, "symbolStrokeWidth": 3, "rowPadding": 7.5, "labelOffset": 13, "symbolOffset": 14, "labelLimit": 400, "encode": {"legend": {"update": {"strokeWidth": {"value": 2}}}}}}
       }},
      {"data": {"name": "sig"}, "transform": [{"filter": "datum.p === 'FCL'"}],
       "mark": {"type": "point", "filled": false, "strokeWidth": 2, "size": 441, "opacity": 1},
       "encoding": {
        "x": {"field": "t", "type": "quantitative"},
        "y": {"field": "v", "type": "quantitative"},
        "color": {"field": "s", "type": "nominal", "scale": {"domain": ["PD","RD","BD","PD vs. RD","PD vs. BD","RD vs. BD"], "range": ["#0072BD","#D95319","#EDB120","#FF00FF","#0000FF","#00FF00"]},
          "legend": {"title": null, "orient": "none", "legendX": 135, "legendY": 8, "strokeColor": "#000000", "fillColor": "#ffffff", "padding": 4, "labelFont": "Lato", "labelFontSize": 30, "labelColor": "#000000", "labelExpr": "datum.label + '\u00a0\u00a0\u00a0\u00a0\u00a0'", "symbolSize": 676, "symbolStrokeWidth": 3, "rowPadding": 7.5, "labelOffset": 13, "symbolOffset": 14, "labelLimit": 400, "encode": {"legend": {"update": {"strokeWidth": {"value": 2}}}}}},
        "shape": {"field": "s", "type": "nominal", "scale": {"domain": ["PD","RD","BD","PD vs. RD","PD vs. BD","RD vs. BD"], "range": ["M-1,0H1","M-1,0H1","M-1,0H1","M0.5,0A0.5,0.5 0 1,1 -0.5,0A0.5,0.5 0 1,1 0.5,0Z","M0.5,0A0.5,0.5 0 1,1 -0.5,0A0.5,0.5 0 1,1 0.5,0Z","M0.5,0A0.5,0.5 0 1,1 -0.5,0A0.5,0.5 0 1,1 0.5,0Z"]},
          "legend": {"title": null, "orient": "none", "legendX": 135, "legendY": 8, "strokeColor": "#000000", "fillColor": "#ffffff", "padding": 4, "labelFont": "Lato", "labelFontSize": 30, "labelColor": "#000000", "labelExpr": "datum.label + '\u00a0\u00a0\u00a0\u00a0\u00a0'", "symbolSize": 676, "symbolStrokeWidth": 3, "rowPadding": 7.5, "labelOffset": 13, "symbolOffset": 14, "labelLimit": 400, "encode": {"legend": {"update": {"strokeWidth": {"value": 2}}}}}}
       }}
     ]
    },
    {
     "width": 365, "height": 659,
     "title": {"text": "Low Tone (300 Hz)", "subtitle": "FCM", "font": "Lato", "fontSize": 54, "fontWeight": "bold", "subtitleFont": "Liberation Sans", "subtitleFontSize": 28, "subtitleFontWeight": "bold", "subtitleColor": "#000000", "subtitlePadding": 6, "offset": 7, "anchor": "middle", "color": "#000000"},
     "view": {"stroke": "#6b6b6b", "strokeWidth": 1.5, "fill": "#ffffff"},
     "layer": [
      {"data": {"name": "wave"}, "transform": [{"filter": "datum.p === 'FCM'"}],
       "mark": {"type": "line", "strokeWidth": 1.6, "interpolate": "monotone"},
       "encoding": {
        "x": {"field": "t", "type": "quantitative", "scale": {"domain": [-0.1, 0.6], "nice": false, "zero": false}, "axis": {"values": [0, 0.2, 0.4, 0.6], "labelExpr": "'' + datum.value", "title": "Time (s)", "titleFont": "Lato", "titleFontStyle": "italic", "titleFontSize": 32, "titlePadding": 14, "titleX": 160}},
        "y": {"field": "v", "type": "quantitative", "scale": {"domain": [-1.5, 1.5], "nice": false, "zero": false}, "axis": {"values": [-1.5, -1, -0.5, 0, 0.5, 1, 1.5], "labelExpr": "'' + datum.value", "title": null}},
        "color": {"field": "s", "type": "nominal", "scale": {"domain": ["PD","RD","BD","PD vs. RD","PD vs. BD","RD vs. BD"], "range": ["#0072BD","#D95319","#EDB120","#FF00FF","#0000FF","#00FF00"]}, "legend": null}
       }},
      {"data": {"name": "wave"}, "transform": [{"filter": "datum.p === 'FCM' && datum.s === 'BD'"}],
       "mark": {"type": "line", "strokeWidth": 4.5, "interpolate": "monotone"},
       "encoding": {
        "x": {"field": "t", "type": "quantitative"},
        "y": {"field": "v", "type": "quantitative"},
        "color": {"field": "s", "type": "nominal", "scale": {"domain": ["PD","RD","BD","PD vs. RD","PD vs. BD","RD vs. BD"], "range": ["#0072BD","#D95319","#EDB120","#FF00FF","#0000FF","#00FF00"]}, "legend": null}
       }},
      {"data": {"name": "sig"}, "transform": [{"filter": "datum.p === 'FCM'"}],
       "mark": {"type": "point", "filled": false, "strokeWidth": 2, "size": 441, "opacity": 1},
       "encoding": {
        "x": {"field": "t", "type": "quantitative"},
        "y": {"field": "v", "type": "quantitative"},
        "color": {"field": "s", "type": "nominal", "scale": {"domain": ["PD","RD","BD","PD vs. RD","PD vs. BD","RD vs. BD"], "range": ["#0072BD","#D95319","#EDB120","#FF00FF","#0000FF","#00FF00"]}, "legend": null},
        "shape": {"field": "s", "type": "nominal", "scale": {"domain": ["PD","RD","BD","PD vs. RD","PD vs. BD","RD vs. BD"], "range": ["M-1,0H1","M-1,0H1","M-1,0H1","M0.5,0A0.5,0.5 0 1,1 -0.5,0A0.5,0.5 0 1,1 0.5,0Z","M0.5,0A0.5,0.5 0 1,1 -0.5,0A0.5,0.5 0 1,1 0.5,0Z","M0.5,0A0.5,0.5 0 1,1 -0.5,0A0.5,0.5 0 1,1 0.5,0Z"]}, "legend": null}
       }},
      {"data": {"name": "frame"},
       "mark": {"type": "rect", "fill": "transparent", "stroke": "#4B80A6", "strokeWidth": 8, "cornerRadius": 2},
       "encoding": {"x": {"field": "x0", "type": "quantitative"}, "x2": {"field": "x1"}, "y": {"field": "y0", "type": "quantitative"}, "y2": {"field": "y1"}}},
      {"data": {"name": "notes"},
       "mark": {"type": "text", "font": "Lato", "fontWeight": "bold", "fontSize": 33, "color": "#000000", "align": "center", "baseline": "middle"},
       "encoding": {"x": {"field": "t", "type": "quantitative"}, "y": {"field": "v", "type": "quantitative"}, "text": {"field": "label"}}}
     ]
    },
    {
     "width": 362, "height": 659,
     "title": {"text": "FCR", "fontSize": 28, "fontWeight": "bold", "font": "Liberation Sans", "offset": 7, "color": "#000000"},
     "view": {"stroke": "#6b6b6b", "strokeWidth": 1.5, "fill": "#ffffff"},
     "layer": [
      {"data": {"name": "wave"}, "transform": [{"filter": "datum.p === 'FCR'"}],
       "mark": {"type": "line", "strokeWidth": 2.5, "interpolate": "monotone"},
       "encoding": {
        "x": {"field": "t", "type": "quantitative", "scale": {"domain": [-0.1, 0.6], "nice": false, "zero": false}, "axis": {"values": [0, 0.2, 0.4, 0.6], "labelExpr": "'' + datum.value", "title": null}},
        "y": {"field": "v", "type": "quantitative", "scale": {"domain": [-1.5, 1.5], "nice": false, "zero": false}, "axis": {"values": [-1.5, -1, -0.5, 0, 0.5, 1, 1.5], "labelExpr": "'' + datum.value", "title": null}},
        "color": {"field": "s", "type": "nominal", "scale": {"domain": ["PD","RD","BD","PD vs. RD","PD vs. BD","RD vs. BD"], "range": ["#0072BD","#D95319","#EDB120","#FF00FF","#0000FF","#00FF00"]}, "legend": null}
       }},
      {"data": {"name": "sig"}, "transform": [{"filter": "datum.p === 'FCR'"}],
       "mark": {"type": "point", "filled": false, "strokeWidth": 2, "size": 441, "opacity": 1},
       "encoding": {
        "x": {"field": "t", "type": "quantitative"},
        "y": {"field": "v", "type": "quantitative"},
        "color": {"field": "s", "type": "nominal", "scale": {"domain": ["PD","RD","BD","PD vs. RD","PD vs. BD","RD vs. BD"], "range": ["#0072BD","#D95319","#EDB120","#FF00FF","#0000FF","#00FF00"]}, "legend": null},
        "shape": {"field": "s", "type": "nominal", "scale": {"domain": ["PD","RD","BD","PD vs. RD","PD vs. BD","RD vs. BD"], "range": ["M-1,0H1","M-1,0H1","M-1,0H1","M0.5,0A0.5,0.5 0 1,1 -0.5,0A0.5,0.5 0 1,1 0.5,0Z","M0.5,0A0.5,0.5 0 1,1 -0.5,0A0.5,0.5 0 1,1 0.5,0Z","M0.5,0A0.5,0.5 0 1,1 -0.5,0A0.5,0.5 0 1,1 0.5,0Z"]}, "legend": null}
       }}
     ]
    }
   ],
   "spacing": 115, "bounds": "flush",
   "resolve": {"scale": {"color": "independent", "shape": "independent", "xOffset": "independent"}}
  },
  {
   "hconcat": [
    {
     "width": 362, "height": 671,
     "title": {"text": "High fcl", "fontSize": 15, "fontWeight": "bold", "font": "Liberation Sans", "offset": -3, "color": "#000000"},
     "view": {"stroke": "#6b6b6b", "strokeWidth": 1.5, "fill": "#ffffff"},
     "layer": [
      {"data": {"name": "wave"}, "transform": [{"filter": "datum.p === 'hFCL'"}],
       "mark": {"type": "line", "strokeWidth": 2, "interpolate": "monotone"},
       "encoding": {
        "x": {"field": "t", "type": "quantitative", "scale": {"domain": [-0.1, 0.6], "nice": false, "zero": false}, "axis": {"values": [-0.1, 0, 0.1, 0.2, 0.3, 0.4, 0.5, 0.6], "labelExpr": "'' + datum.value", "labelFontSize": 16, "title": null}},
        "y": {"field": "v", "type": "quantitative", "scale": {"domain": [-1.5, 1.5], "nice": false, "zero": false}, "axis": {"values": [-1.5, -1, -0.5, 0, 0.5, 1, 1.5], "labelExpr": "'' + datum.value", "labelFontSize": 16, "title": "Voltage (µV)", "titleFont": "Lato", "titleFontStyle": "italic", "titleFontSize": 32, "titlePadding": 36, "titleY": 318}},
        "color": {"field": "s", "type": "nominal", "scale": {"domain": ["PD","RD","BD","PD vs. RD","PD vs. BD","RD vs. BD"], "range": ["#0072BD","#D95319","#EDB120","#FF00FF","#0000FF","#00FF00"]},
          "legend": {"title": null, "orient": "none", "legendX": 127, "legendY": 12, "strokeColor": "#000000", "fillColor": "#ffffff", "padding": 4, "labelFont": "Lato", "labelFontSize": 30, "labelColor": "#000000", "labelExpr": "datum.label + '\u00a0\u00a0\u00a0\u00a0\u00a0'", "symbolSize": 676, "symbolStrokeWidth": 3, "rowPadding": 7.5, "labelOffset": 13, "symbolOffset": 14, "labelLimit": 400, "encode": {"legend": {"update": {"strokeWidth": {"value": 2}}}}}}
       }},
      {"data": {"name": "sig"}, "transform": [{"filter": "datum.p === 'hFCL'"}],
       "mark": {"type": "point", "filled": false, "strokeWidth": 2, "size": 484, "opacity": 1},
       "encoding": {
        "x": {"field": "t", "type": "quantitative"},
        "y": {"field": "v", "type": "quantitative"},
        "color": {"field": "s", "type": "nominal", "scale": {"domain": ["PD","RD","BD","PD vs. RD","PD vs. BD","RD vs. BD"], "range": ["#0072BD","#D95319","#EDB120","#FF00FF","#0000FF","#00FF00"]},
          "legend": {"title": null, "orient": "none", "legendX": 127, "legendY": 12, "strokeColor": "#000000", "fillColor": "#ffffff", "padding": 4, "labelFont": "Lato", "labelFontSize": 30, "labelColor": "#000000", "labelExpr": "datum.label + '\u00a0\u00a0\u00a0\u00a0\u00a0'", "symbolSize": 676, "symbolStrokeWidth": 3, "rowPadding": 7.5, "labelOffset": 13, "symbolOffset": 14, "labelLimit": 400, "encode": {"legend": {"update": {"strokeWidth": {"value": 2}}}}}},
        "shape": {"field": "s", "type": "nominal", "scale": {"domain": ["PD","RD","BD","PD vs. RD","PD vs. BD","RD vs. BD"], "range": ["M-1,0H1","M-1,0H1","M-1,0H1","M0.5,0A0.5,0.5 0 1,1 -0.5,0A0.5,0.5 0 1,1 0.5,0Z","M0.5,0A0.5,0.5 0 1,1 -0.5,0A0.5,0.5 0 1,1 0.5,0Z","M0.5,0A0.5,0.5 0 1,1 -0.5,0A0.5,0.5 0 1,1 0.5,0Z"]},
          "legend": {"title": null, "orient": "none", "legendX": 127, "legendY": 12, "strokeColor": "#000000", "fillColor": "#ffffff", "padding": 4, "labelFont": "Lato", "labelFontSize": 30, "labelColor": "#000000", "labelExpr": "datum.label + '\u00a0\u00a0\u00a0\u00a0\u00a0'", "symbolSize": 676, "symbolStrokeWidth": 3, "rowPadding": 7.5, "labelOffset": 13, "symbolOffset": 14, "labelLimit": 400, "encode": {"legend": {"update": {"strokeWidth": {"value": 2}}}}}}
       }}
     ]
    },
    {
     "width": 359, "height": 671,
     "title": {"text": "Low Tone (300 Hz)", "subtitle": "High fcm", "font": "Lato", "fontSize": 54, "fontWeight": "bold", "subtitleFont": "Liberation Sans", "subtitleFontSize": 15, "subtitleFontWeight": "bold", "subtitleColor": "#000000", "subtitlePadding": 10, "offset": -3, "anchor": "middle", "color": "#000000"},
     "view": {"stroke": "#6b6b6b", "strokeWidth": 1.5, "fill": "#ffffff"},
     "layer": [
      {"data": {"name": "wave"}, "transform": [{"filter": "datum.p === 'hFCM'"}],
       "mark": {"type": "line", "strokeWidth": 2, "interpolate": "monotone"},
       "encoding": {
        "x": {"field": "t", "type": "quantitative", "scale": {"domain": [-0.1, 0.6], "nice": false, "zero": false}, "axis": {"values": [-0.1, 0, 0.1, 0.2, 0.3, 0.4, 0.5, 0.6], "labelExpr": "'' + datum.value", "labelFontSize": 16, "title": "Time (s)", "titleFont": "Lato", "titleFontStyle": "italic", "titleFontSize": 32, "titlePadding": 20, "titleX": 159}},
        "y": {"field": "v", "type": "quantitative", "scale": {"domain": [-1.5, 1.5], "nice": false, "zero": false}, "axis": {"values": [-1.5, -1, -0.5, 0, 0.5, 1, 1.5], "labelExpr": "'' + datum.value", "labelFontSize": 16, "title": null}},
        "color": {"field": "s", "type": "nominal", "scale": {"domain": ["PD","RD","BD","PD vs. RD","PD vs. BD","RD vs. BD"], "range": ["#0072BD","#D95319","#EDB120","#FF00FF","#0000FF","#00FF00"]}, "legend": null}
       }},
      {"data": {"name": "sig"}, "transform": [{"filter": "datum.p === 'hFCM'"}],
       "mark": {"type": "point", "filled": false, "strokeWidth": 2, "size": 484, "opacity": 1},
       "encoding": {
        "x": {"field": "t", "type": "quantitative"},
        "y": {"field": "v", "type": "quantitative"},
        "color": {"field": "s", "type": "nominal", "scale": {"domain": ["PD","RD","BD","PD vs. RD","PD vs. BD","RD vs. BD"], "range": ["#0072BD","#D95319","#EDB120","#FF00FF","#0000FF","#00FF00"]}, "legend": null},
        "shape": {"field": "s", "type": "nominal", "scale": {"domain": ["PD","RD","BD","PD vs. RD","PD vs. BD","RD vs. BD"], "range": ["M-1,0H1","M-1,0H1","M-1,0H1","M0.5,0A0.5,0.5 0 1,1 -0.5,0A0.5,0.5 0 1,1 0.5,0Z","M0.5,0A0.5,0.5 0 1,1 -0.5,0A0.5,0.5 0 1,1 0.5,0Z","M0.5,0A0.5,0.5 0 1,1 -0.5,0A0.5,0.5 0 1,1 0.5,0Z"]}, "legend": null}
       }}
     ]
    },
    {
     "width": 357, "height": 671,
     "title": {"text": "High fcr", "fontSize": 15, "fontWeight": "bold", "font": "Liberation Sans", "offset": -3, "color": "#000000"},
     "view": {"stroke": "#6b6b6b", "strokeWidth": 1.5, "fill": "#ffffff"},
     "layer": [
      {"data": {"name": "wave"}, "transform": [{"filter": "datum.p === 'hFCR'"}],
       "mark": {"type": "line", "strokeWidth": 2.2, "interpolate": "monotone"},
       "encoding": {
        "x": {"field": "t", "type": "quantitative", "scale": {"domain": [-0.1, 0.6], "nice": false, "zero": false}, "axis": {"values": [-0.1, 0, 0.1, 0.2, 0.3, 0.4, 0.5, 0.6], "labelExpr": "'' + datum.value", "labelFontSize": 16, "title": null}},
        "y": {"field": "v", "type": "quantitative", "scale": {"domain": [-1.5, 1.5], "nice": false, "zero": false}, "axis": {"values": [-1.5, -1, -0.5, 0, 0.5, 1, 1.5], "labelExpr": "'' + datum.value", "labelFontSize": 16, "title": null}},
        "color": {"field": "s", "type": "nominal", "scale": {"domain": ["PD","RD","BD","PD vs. RD","PD vs. BD","RD vs. BD"], "range": ["#0072BD","#D95319","#EDB120","#FF00FF","#0000FF","#00FF00"]}, "legend": null}
       }},
      {"data": {"name": "sig"}, "transform": [{"filter": "datum.p === 'hFCR'"}],
       "mark": {"type": "point", "filled": false, "strokeWidth": 2, "size": 484, "opacity": 1},
       "encoding": {
        "x": {"field": "t", "type": "quantitative"},
        "y": {"field": "v", "type": "quantitative"},
        "color": {"field": "s", "type": "nominal", "scale": {"domain": ["PD","RD","BD","PD vs. RD","PD vs. BD","RD vs. BD"], "range": ["#0072BD","#D95319","#EDB120","#FF00FF","#0000FF","#00FF00"]}, "legend": null},
        "shape": {"field": "s", "type": "nominal", "scale": {"domain": ["PD","RD","BD","PD vs. RD","PD vs. BD","RD vs. BD"], "range": ["M-1,0H1","M-1,0H1","M-1,0H1","M0.5,0A0.5,0.5 0 1,1 -0.5,0A0.5,0.5 0 1,1 0.5,0Z","M0.5,0A0.5,0.5 0 1,1 -0.5,0A0.5,0.5 0 1,1 0.5,0Z","M0.5,0A0.5,0.5 0 1,1 -0.5,0A0.5,0.5 0 1,1 0.5,0Z"]}, "legend": null}
       }}
     ]
    }
   ],
   "spacing": 113, "bounds": "flush",
   "resolve": {"scale": {"color": "independent", "shape": "independent", "xOffset": "independent"}}
  }
 ],
 "spacing": 19,
 "resolve": {"scale": {"color": "independent", "shape": "independent", "xOffset": "independent"}}
},
{
 "vconcat": [
  {
   "width": 1080, "height": 1,
   "view": {"stroke": null, "fill": null},
   "title": {"text": ["The bigger responses for the low tone may be", "related to enhanced sound localization using", "Interaural Time Difference (ITD) in the", "presence of reverberation, and/or attenuation", "of the harmonics present in the high", "frequency tone typically involving Interaural", "Level Difference (ILD)."], "orient": "bottom", "anchor": "start", "frame": "group", "font": "Lato", "fontSize": 57, "fontWeight": "normal", "color": "#1B4B4F", "lineHeight": 73.3, "offset": 41, "dx": -12, "baseline": "top"},
   "data": {"values": []},
   "mark": {"type": "rule", "opacity": 0},
   "encoding": {}
  },
  {
   "hconcat": [
    {
     "width": 411, "height": 557,
     "title": {"text": "Mean MMN Amplitudes by Tone", "anchor": "start", "frame": "group", "fontSize": 31, "fontWeight": "normal", "font": "Liberation Sans", "offset": 14, "color": "#000000"},
     "view": {"fill": "#EBEBEB", "stroke": null},
     "data": {"name": "box"},
     "transform": [{"filter": "datum.m === 'MMN'"}],
     "encoding": {
      "x": {"field": "tone", "type": "nominal", "scale": {"domain": ["High", "Low"], "paddingInner": 0.246, "paddingOuter": 0.222},
        "axis": {"bandPosition": 0.5, "grid": true, "gridColor": "#ffffff", "gridWidth": 2.5, "ticks": true, "tickColor": "#333333", "tickSize": 6.5, "tickWidth": 1.5, "domain": false, "labelFontSize": 21, "labelColor": "#4D4D4D", "labelPadding": 3, "labelAngle": 0, "title": "Tone Height", "titleFontSize": 26, "titleFontWeight": "normal", "titleColor": "#000000", "titlePadding": 4}},
      "xOffset": {"field": "dev", "type": "nominal", "scale": {"domain": ["BD", "PD", "RD"], "paddingInner": 0.1, "paddingOuter": 0.05}}
     },
     "layer": [
      {"mark": {"type": "rule", "color": "#333333", "strokeWidth": 2.2},
       "encoding": {
        "y": {"field": "lo", "type": "quantitative", "scale": {"domain": [-1.62, 1.12], "nice": false, "zero": false},
          "axis": {"values": [-1.5, -1.25, -1, -0.75, -0.5, -0.25, 0, 0.25, 0.5, 0.75, 1], "labelExpr": "abs(datum.value*2-round(datum.value*2)) < 0.01 ? (datum.value < 0 ? '-' : '') + format(abs(datum.value), '.1f') : ''", "grid": true, "gridColor": "#ffffff", "gridWidth": {"condition": {"test": "abs(datum.value*2-round(datum.value*2)) < 0.01", "value": 2.5}, "value": 1.2}, "ticks": true, "tickColor": "#333333", "tickSize": 6.5, "tickWidth": 1.5, "tickOpacity": {"condition": {"test": "abs(datum.value*2-round(datum.value*2)) < 0.01", "value": 1}, "value": 0}, "domain": false, "labelFontSize": 21, "labelColor": "#4D4D4D", "labelPadding": 4, "title": "MMN  Amplitude (µV)", "titleFontSize": 26, "titleFontWeight": "normal", "titleColor": "#000000", "titlePadding": 10, "titleY": 221}},
        "y2": {"field": "hi"}
       }},
      {"mark": {"type": "bar", "stroke": "#333333", "strokeWidth": 2.2},
       "encoding": {
        "y": {"field": "q1", "type": "quantitative"},
        "y2": {"field": "q3"},
        "color": {"field": "dev", "type": "nominal", "scale": {"domain": ["BD", "PD", "RD"], "range": ["#DA983E", "#0E5CB2", "#CD4119"]},
          "legend": {"title": "Dev", "orient": "none", "legendX": 450, "legendY": 198, "titleFontSize": 26, "titleFontWeight": "normal", "titleColor": "#000000", "titlePadding": 8, "labelFontSize": 21, "labelColor": "#000000", "symbolType": "M-0.8,-0.5H0.8V0.5H-0.8Z M-0.8,0H0.8 M0,-0.5V-0.9 M0,0.5V0.9", "symbolSize": 1764, "symbolStrokeColor": "#333333", "symbolStrokeWidth": 2, "symbolOpacity": 1, "rowPadding": 1, "labelOffset": 13, "padding": 0}}
       }},
      {"mark": {"type": "tick", "color": "#1a1a1a", "thickness": 4.5, "size": 42, "opacity": 1},
       "encoding": {"y": {"field": "med", "type": "quantitative"}}}
     ]
    },
    {
     "width": 411, "height": 557,
     "title": {"text": "Mean P3a Amplitudes by Tone", "anchor": "start", "frame": "group", "fontSize": 31, "fontWeight": "normal", "font": "Liberation Sans", "offset": 14, "color": "#000000"},
     "view": {"fill": "#EBEBEB", "stroke": null},
     "data": {"name": "box"},
     "transform": [{"filter": "datum.m === 'P3a'"}],
     "encoding": {
      "x": {"field": "tone", "type": "nominal", "scale": {"domain": ["High", "Low"], "paddingInner": 0.246, "paddingOuter": 0.222},
        "axis": {"bandPosition": 0.5, "grid": true, "gridColor": "#ffffff", "gridWidth": 2.5, "ticks": true, "tickColor": "#333333", "tickSize": 6.5, "tickWidth": 1.5, "domain": false, "labelFontSize": 21, "labelColor": "#4D4D4D", "labelPadding": 3, "labelAngle": 0, "title": "Tone Height", "titleFontSize": 26, "titleFontWeight": "normal", "titleColor": "#000000", "titlePadding": 4}},
      "xOffset": {"field": "dev", "type": "nominal", "scale": {"domain": ["BD", "PD", "RD"], "paddingInner": 0.1, "paddingOuter": 0.05}}
     },
     "layer": [
      {"mark": {"type": "rule", "color": "#333333", "strokeWidth": 2.2},
       "encoding": {
        "y": {"field": "lo", "type": "quantitative", "scale": {"domain": [-1.62, 1.12], "nice": false, "zero": false},
          "axis": {"values": [-1.5, -1.25, -1, -0.75, -0.5, -0.25, 0, 0.25, 0.5, 0.75, 1], "labelExpr": "abs(datum.value*2-round(datum.value*2)) < 0.01 ? (datum.value < 0 ? '-' : '') + format(abs(datum.value), '.1f') : ''", "grid": true, "gridColor": "#ffffff", "gridWidth": {"condition": {"test": "abs(datum.value*2-round(datum.value*2)) < 0.01", "value": 2.5}, "value": 1.2}, "ticks": true, "tickColor": "#333333", "tickSize": 6.5, "tickWidth": 1.5, "tickOpacity": {"condition": {"test": "abs(datum.value*2-round(datum.value*2)) < 0.01", "value": 1}, "value": 0}, "domain": false, "labelFontSize": 21, "labelColor": "#4D4D4D", "labelPadding": 4, "title": "P3a  Amplitude (µV)", "titleFontSize": 26, "titleFontWeight": "normal", "titleColor": "#000000", "titlePadding": 10, "titleY": 215}},
        "y2": {"field": "hi"}
       }},
      {"mark": {"type": "bar", "stroke": "#333333", "strokeWidth": 2.2},
       "encoding": {
        "y": {"field": "q1", "type": "quantitative"},
        "y2": {"field": "q3"},
        "color": {"field": "dev", "type": "nominal", "scale": {"domain": ["BD", "PD", "RD"], "range": ["#DA983E", "#0E5CB2", "#CD4119"]},
          "legend": {"title": "Dev", "orient": "none", "legendX": 450, "legendY": 198, "titleFontSize": 26, "titleFontWeight": "normal", "titleColor": "#000000", "titlePadding": 8, "labelFontSize": 21, "labelColor": "#000000", "symbolType": "M-0.8,-0.5H0.8V0.5H-0.8Z M-0.8,0H0.8 M0,-0.5V-0.9 M0,0.5V0.9", "symbolSize": 1764, "symbolStrokeColor": "#333333", "symbolStrokeWidth": 2, "symbolOpacity": 1, "rowPadding": 1, "labelOffset": 13, "padding": 0}}
       }},
      {"mark": {"type": "tick", "color": "#1a1a1a", "thickness": 4.5, "size": 42, "opacity": 1},
       "encoding": {"y": {"field": "med", "type": "quantitative"}}}
     ]
    }
   ],
   "spacing": 258, "bounds": "flush",
   "resolve": {"scale": {"color": "independent", "shape": "independent", "xOffset": "independent"}}
  }
 ],
 "spacing": 316,
 "resolve": {"scale": {"color": "independent", "shape": "independent", "xOffset": "independent"}}
}
],
"spacing": 46,
"resolve": {"scale": {"color": "independent", "shape": "independent", "xOffset": "independent"}}
}
